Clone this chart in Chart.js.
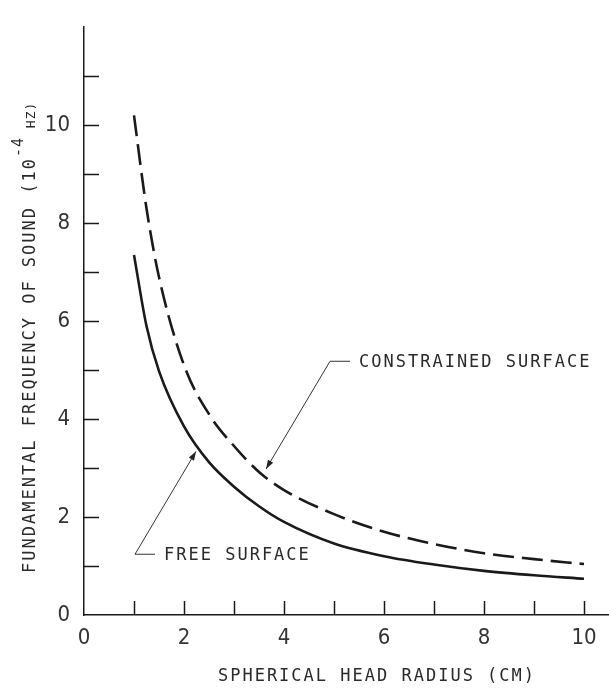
<!DOCTYPE html>
<html>
<head>
<meta charset="utf-8">
<title>Fundamental frequency vs spherical head radius</title>
<script src="https://cdn.jsdelivr.net/npm/chart.js@4.4.0/dist/chart.umd.min.js"></script>
<style>
    html, body { margin: 0; padding: 0; background: #fff; }
    #wrap { width: 609px; height: 689px; position: relative; }
</style>
</head>
<body>
<div id="wrap"><canvas id="canvasSingle"></canvas></div>
<script>
// values (radius in cm, frequency in 10^-4 Hz)
const radius = [1, 1.25, 1.5, 2, 2.5, 3, 3.5, 4, 5, 6, 7, 8, 9, 10];
const freeSurface = [7.35, 5.9, 4.98, 3.85, 3.12, 2.62, 2.22, 1.9, 1.46, 1.2, 1.03, 0.9, 0.81, 0.74];
const constrainedSurface = [10.2, 8.3, 6.9, 5.1, 4.1, 3.45, 2.92, 2.55, 2.06, 1.7, 1.45, 1.26, 1.14, 1.04];

const xLabels = [0, 2, 4, 6, 8, 10];
const yLabels = [0, 2, 4, 6, 8, 10];
const xMarks = [1, 2, 3, 4, 5, 6, 7, 8, 9, 10];
const yMarks = [1, 2, 3, 4, 5, 6, 7, 8, 9, 10, 11];

const xTitle = 'SPHERICAL HEAD RADIUS (CM)';
const yTitle = ['FUNDAMENTAL FREQUENCY OF SOUND (10', '-4', ' HZ)'];

// leader lines: start of the short dash (data units) and the arrow tip (data units)
const notes = [
    { text: 'CONSTRAINED SURFACE', from: [4.92, 5.18], to: [3.64, 2.98] },
    { text: 'FREE SURFACE', from: [1.02, 1.24], to: [2.24, 3.34] }
];

const INK = '#1a1a1a';
const LETTER_FONT = '17px "DejaVu Sans Mono", "Liberation Mono", monospace';
const NUM_FONT = { family: '"Liberation Sans Narrow", "DejaVu Sans Condensed", "Liberation Sans", sans-serif', size: 22 };

function toPoints(xs, ys) {
    return xs.map((x, i) => ({ x: x, y: ys[i] }));
}

const drawExtras = {
    id: 'drawExtras',
    afterDraw(chart) {
        const ctx = chart.ctx;
        const xs = chart.scales.x;
        const ys = chart.scales.y;
        const area = chart.chartArea;

        ctx.save();
        // tick marks point inwards
        ctx.strokeStyle = INK;
        ctx.lineWidth = 1.5;
        ctx.beginPath();
        xMarks.forEach(v => {
            const px = Math.round(xs.getPixelForValue(v)) + 0.5;
            ctx.moveTo(px, area.bottom);
            ctx.lineTo(px, area.bottom - 14);
        });
        yMarks.forEach(v => {
            const py = Math.round(ys.getPixelForValue(v)) + 0.5;
            ctx.moveTo(area.left, py);
            ctx.lineTo(area.left + 15, py);
        });
        ctx.stroke();

        ctx.fillStyle = '#2a2a2a';
        ctx.font = LETTER_FONT;
        ctx.letterSpacing = '2px';
        ctx.textBaseline = 'middle';

        // x title
        ctx.textAlign = 'center';
        ctx.fillText(xTitle, 377, 677);

        // y title, rotated, with the superscript exponent
        ctx.save();
        ctx.translate(31, 573);
        ctx.rotate(-Math.PI / 2);
        ctx.textAlign = 'left';
        let pos = 0;
        ctx.fillText(yTitle[0], pos, 0);
        pos += ctx.measureText(yTitle[0]).width;
        ctx.font = '15px "DejaVu Sans Mono", monospace';
        ctx.letterSpacing = '1px';
        ctx.fillText(yTitle[1], pos, -12);
        pos += ctx.measureText(yTitle[1]).width;
        ctx.font = '13px "DejaVu Sans Mono", monospace';
        ctx.fillText(yTitle[2], pos, 1);
        ctx.restore();

        // annotations with leader lines and arrowheads
        ctx.font = LETTER_FONT;
        ctx.letterSpacing = '2px';
        ctx.textAlign = 'left';
        notes.forEach(n => {
            const x0 = xs.getPixelForValue(n.from[0]);
            const y0 = ys.getPixelForValue(n.from[1]);
            const x1 = xs.getPixelForValue(n.to[0]);
            const y1 = ys.getPixelForValue(n.to[1]);
            ctx.strokeStyle = '#333';
            ctx.lineWidth = 1;
            ctx.beginPath();
            ctx.moveTo(x0 + 20, y0);
            ctx.lineTo(x0, y0);
            ctx.lineTo(x1, y1);
            ctx.stroke();
            const ang = Math.atan2(y1 - y0, x1 - x0);
            ctx.fillStyle = '#222';
            ctx.beginPath();
            ctx.moveTo(x1, y1);
            ctx.lineTo(x1 - 9 * Math.cos(ang) + 3 * Math.sin(ang), y1 - 9 * Math.sin(ang) - 3 * Math.cos(ang));
            ctx.lineTo(x1 - 9 * Math.cos(ang) - 3 * Math.sin(ang), y1 - 9 * Math.sin(ang) + 3 * Math.cos(ang));
            ctx.closePath();
            ctx.fill();
            ctx.fillStyle = '#2a2a2a';
            ctx.fillText(n.text, x0 + 29, y0 + 1);
        });
        ctx.restore();
    }
};

let config = {
    type: 'line',
    data: {
        datasets: [{
            label: 'Constrained surface',
            data: toPoints(radius, constrainedSurface),
            borderColor: INK,
            borderWidth: 2.6,
            borderDash: [21, 8],
            pointRadius: 0,
            fill: false,
            cubicInterpolationMode: 'monotone'
        }, {
            label: 'Free surface',
            data: toPoints(radius, freeSurface),
            borderColor: INK,
            borderWidth: 2.6,
            pointRadius: 0,
            fill: false,
            cubicInterpolationMode: 'monotone'
        }]
    },
    options: {
        responsive: true,
        maintainAspectRatio: false,
        animation: false,
        layout: {
            padding: { top: 13, right: 0, left: 0, bottom: 0 }
        },
        plugins: {
            legend: { display: false },
            tooltip: { enabled: false }
        },
        scales: {
            x: {
                type: 'linear',
                min: 0,
                max: 10.5,
                afterBuildTicks: function (scale) { scale.ticks = xLabels.map(v => ({ value: v })); },
                afterFit: function (scale) { scale.height = 74; },
                grid: { display: false, drawTicks: false },
                border: { display: true, color: INK, width: 1.5 },
                ticks: {
                    autoSkip: false,
                    maxRotation: 0,
                    padding: 10,
                    color: '#333',
                    font: NUM_FONT
                }
            },
            y: {
                type: 'linear',
                min: 0,
                max: 12,
                afterBuildTicks: function (scale) { scale.ticks = yLabels.map(v => ({ value: v })); },
                afterFit: function (scale) { scale.width = 84; },
                grid: { display: false, drawTicks: false },
                border: { display: true, color: INK, width: 1.5 },
                ticks: {
                    autoSkip: false,
                    padding: 14,
                    color: '#333',
                    font: NUM_FONT
                }
            }
        }
    },
    plugins: [drawExtras]
};

var myChart = new Chart(document.getElementById('canvasSingle'), config);
</script>
</body>
</html>
